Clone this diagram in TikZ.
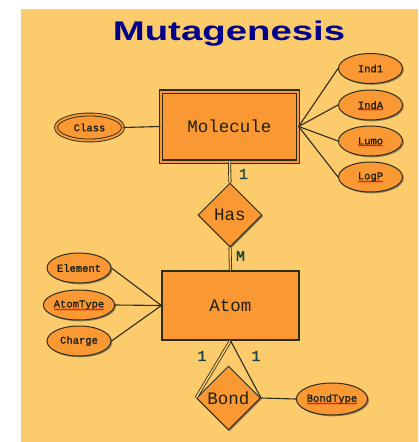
\documentclass[tikz,border=0pt]{standalone}
\usepackage{fontspec}
\setmainfont{Liberation Sans}
\newfontfamily\monof{Liberation Mono}
\newfontfamily\monobf[FakeBold=1.6]{Liberation Mono}
\usetikzlibrary{shapes.geometric,shadows,decorations.pathmorphing}
\definecolor{bgcol}{RGB}{252,203,107}
\definecolor{nodefill}{RGB}{250,153,52}
\definecolor{linecol}{RGB}{45,45,30}
\definecolor{titlecol}{RGB}{0,0,140}
\definecolor{cardcol}{RGB}{25,70,65}
\definecolor{txtcol}{RGB}{30,32,22}
\tikzset{
  shad/.style={drop shadow={shadow xshift=1.3pt, shadow yshift=-1.3pt, opacity=0.5, fill=black!80}},
  entity/.style={rectangle, draw=linecol, fill=nodefill, line width=1.2pt, shad,
    minimum width=137pt, minimum height=69pt, inner sep=0pt,
    font=\monof\fontsize{17.5}{18}\selectfont, text=txtcol},
  weakent/.style={entity, double=nodefill, double distance=2pt, line width=1.3pt,
    minimum width=137pt, minimum height=70pt},
  attr/.style={ellipse, draw=linecol, fill=nodefill, line width=1pt, shad,
    minimum width=64pt, minimum height=30pt, inner sep=0pt,
    font=\monobf\fontsize{10.5}{11}\selectfont, text=txtcol},
  keyattr/.style={attr, double=nodefill, double distance=2pt, line width=0.9pt,
    minimum width=67pt, minimum height=26pt},
  rel/.style={diamond, draw=linecol, fill=nodefill, line width=1pt, shad,
    minimum width=64pt, minimum height=64pt, inner sep=0pt,
    font=\monof\fontsize{17.5}{18}\selectfont, text=txtcol},
  conn/.style={draw=linecol, line width=1.1pt},
  dconn/.style={draw=linecol, line width=0.8pt, double=bgcol, double distance=1.5pt},
  card/.style={font=\monobf\fontsize{15}{15}\selectfont, text=cardcol, inner sep=0pt},
  squig/.style={draw=red!85!black, line width=0.5pt, decorate,
    decoration={snake, amplitude=0.7pt, segment length=2.2pt}}
}
\begin{document}
\begin{tikzpicture}[x=1pt, y=-1pt]
\useasboundingbox (0,0) rectangle (418,442);
\fill[bgcol] (21,9) rectangle (418,442);

\node[anchor=base, inner sep=0pt, text=titlecol] (title) at (229,40)
  {\scalebox{1.42}[1]{\fontsize{27}{27}\selectfont\bfseries Mutagenesis}};

% entities
\node[weakent] (mol) at (229.5,126.5) {Molecule};
\node[entity] (atom) at (230.5,305.5) {Atom};

% relationships
\node[rel] (has) at (230,215) {Has};
\node[rel] (bond) at (228.5,398) {Bond};

% attributes
\node[keyattr] (class) at (89.5,127.5) {Class};
\node[attr] (ind1) at (370.5,68.5) {Ind1};
\node[attr] (inda) at (370.5,105) {IndA};
\node[attr] (lumo) at (370.5,141) {Lumo};
\node[attr] (logp) at (370.5,177) {LogP};
\node[attr] (elem) at (79,268) {Element};
\node[attr] (atype) at (79,305) {AtomType};
\node[attr] (charge) at (79,341) {Charge};
\node[attr, minimum width=66pt, minimum height=32pt] (btype) at (332,399) {BondType};

% spell-check squiggles
\draw[squig] ([xshift=-12.5pt,yshift=-4.5pt]inda.center) -- ++(25,0);
\draw[squig] ([xshift=-12.5pt,yshift=-4.5pt]lumo.center) -- ++(25,0);
\draw[squig] ([xshift=-12.5pt,yshift=-4.5pt]logp.center) -- ++(25,0);
\draw[squig] ([xshift=-25pt,yshift=-4.5pt]atype.center) -- ++(50,0);
\draw[squig] ([xshift=-25pt,yshift=-4.5pt]btype.center) -- ++(50,0);

% connectors
\draw[conn] (class.east) -- (mol.west);
\draw[conn] (mol.east) -- (ind1.west);
\draw[conn] (mol.east) -- (inda.west);
\draw[conn] (mol.east) -- (lumo.west);
\draw[conn] (mol.east) -- (logp.west);
\draw[dconn] (mol.south) -- (has.north);
\draw[dconn] (has.south) -- (atom.north);
\draw[conn] (elem.east) -- (atom.west);
\draw[conn] (atype.east) -- (atom.west);
\draw[conn] (charge.east) -- (atom.west);
\draw[dconn] (atom.south) -- (bond.west);
\draw[conn] (atom.south) -- (bond.east);
\draw[conn] (bond.east) -- (btype.west);

% cardinalities
\node[card] (c1) at (243.5,174) {1};
\node[card] (cm) at (240.5,256) {M};
\node[card] (c2) at (202,356) {1};
\node[card] (c3) at (256,356) {1};
\end{tikzpicture}
\end{document}
